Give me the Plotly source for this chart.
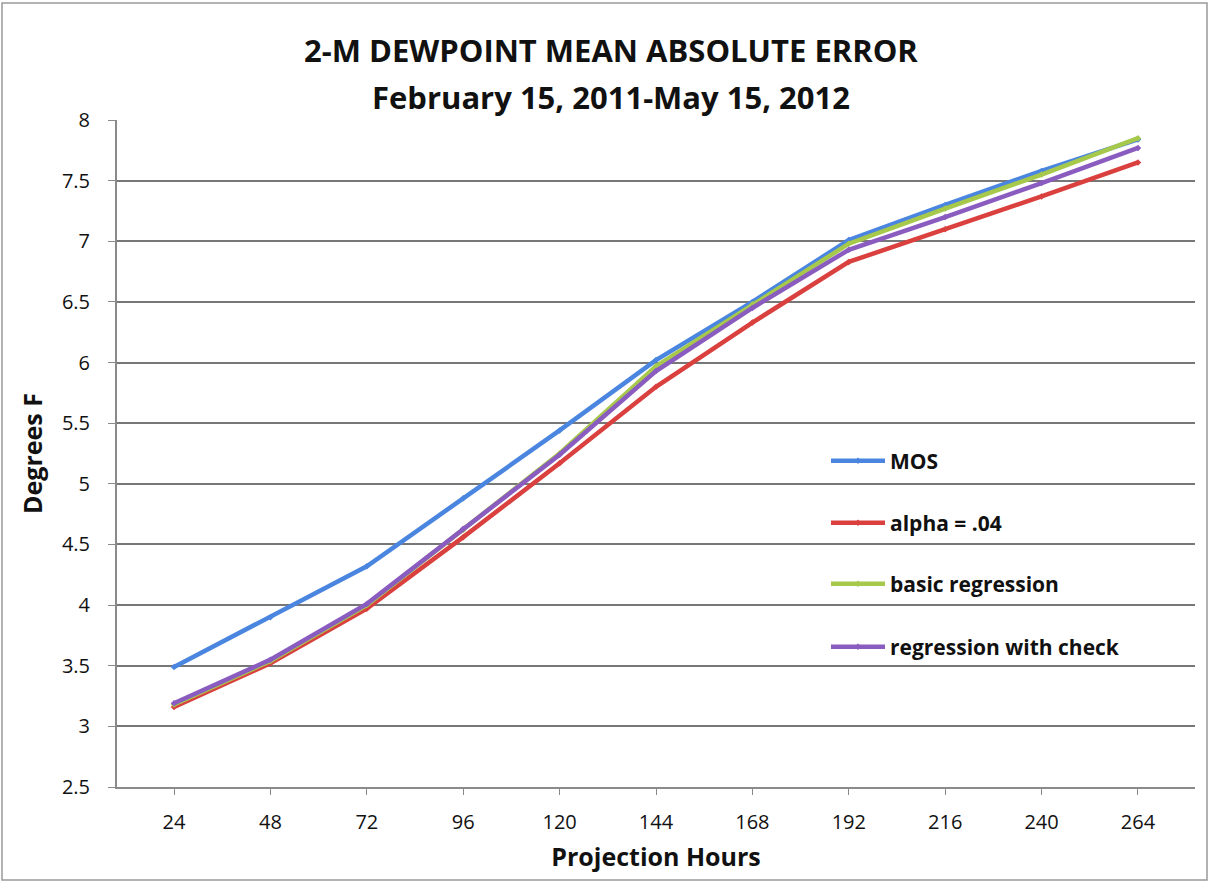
import plotly.graph_objects as go

hours = ["24", "48", "72", "96", "120", "144", "168", "192", "216", "240", "264"]
mos = [3.49, 3.90, 4.32, 4.88, 5.44, 6.02, 6.50, 7.01, 7.30, 7.58, 7.84]
alpha04 = [3.16, 3.52, 3.97, 4.56, 5.17, 5.80, 6.33, 6.83, 7.10, 7.37, 7.65]
basic_reg = [3.18, 3.54, 4.00, 4.62, 5.25, 5.97, 6.48, 6.98, 7.27, 7.55, 7.85]
reg_check = [3.19, 3.55, 4.01, 4.63, 5.24, 5.93, 6.45, 6.93, 7.20, 7.48, 7.77]

series = [
    ("MOS", mos, "#4a86e0", "legend"),
    ("alpha = .04", alpha04, "#d9403e", "legend2"),
    ("basic regression", basic_reg, "#a6c94c", "legend3"),
    ("regression with check", reg_check, "#8a5cc0", "legend4"),
]

title_lines = ["2-M DEWPOINT MEAN ABSOLUTE ERROR", "February 15, 2011-May 15, 2012"]

FONT = "Open Sans, Lato, DejaVu Sans, sans-serif"

fig = go.Figure()
for name, vals, col, lg in series:
    fig.add_trace(go.Scatter(
        x=hours, y=vals, name="<b>" + name + "</b>", mode="lines+markers",
        line=dict(color=col, width=4.5),
        marker=dict(size=5, color=col, symbol="diamond"),
        legend=lg,
    ))

L, R, T, B = 117, 15, 120, 96
W, H = 1210, 883
pw, ph = W - L - R, H - T - B

def px_to_paper_x(px):
    return (px - L) / pw

def px_to_paper_y(py):
    return (H - B - py) / ph

leg_common = dict(
    xanchor="left", yanchor="middle",
    bgcolor="rgba(0,0,0,0)", borderwidth=0,
    font=dict(family=FONT, size=21, color="#111111"),
    itemwidth=54,
)
leg_y = [461, 523, 584, 647]
legends = {}
for i, key in enumerate(["legend", "legend2", "legend3", "legend4"]):
    legends[key] = dict(x=px_to_paper_x(826), y=px_to_paper_y(leg_y[i]), **leg_common)

fig.update_layout(
    width=W, height=H,
    margin=dict(l=L, r=R, t=T, b=B),
    paper_bgcolor="white", plot_bgcolor="white",
    font=dict(family=FONT, color="#111111"),
    xaxis=dict(
        title=dict(text="<b>Projection Hours</b>", font=dict(family=FONT, size=25), standoff=14),
        type="category",
        showgrid=False,
        showline=True, linecolor="#8a8a8a", linewidth=2,
        ticks="outside", ticklen=6, tickcolor="#8a8a8a",
        ticklabelstandoff=10,
        tickfont=dict(family=FONT, size=20, color="#111111"),
    ),
    yaxis=dict(
        title=dict(text="<b>Degrees F</b>", font=dict(family=FONT, size=25), standoff=12),
        range=[2.5, 8], dtick=0.5, tick0=2.5,
        showgrid=True, gridcolor="#777777", gridwidth=2,
        showline=True, linecolor="#8a8a8a", linewidth=2,
        ticks="outside", ticklen=7, tickcolor="#8a8a8a",
        ticklabelstandoff=14,
        tickfont=dict(family=FONT, size=20, color="#111111"),
        zeroline=False,
    ),
    showlegend=True,
    **legends,
)

for line_text, ypx in zip(title_lines, [50, 97]):
    fig.add_annotation(
        text="<b>" + line_text + "</b>", showarrow=False,
        xref="paper", yref="paper",
        x=px_to_paper_x(611), y=px_to_paper_y(ypx),
        xanchor="center", yanchor="middle",
        font=dict(family=FONT, size=31, color="#111111"),
    )

fig.add_shape(
    type="rect", xref="paper", yref="paper",
    x0=px_to_paper_x(2), x1=px_to_paper_x(1207),
    y0=px_to_paper_y(880), y1=px_to_paper_y(3),
    line=dict(color="#999999", width=1.5), fillcolor="rgba(0,0,0,0)",
    layer="below",
)

fig.write_html("out.html")
